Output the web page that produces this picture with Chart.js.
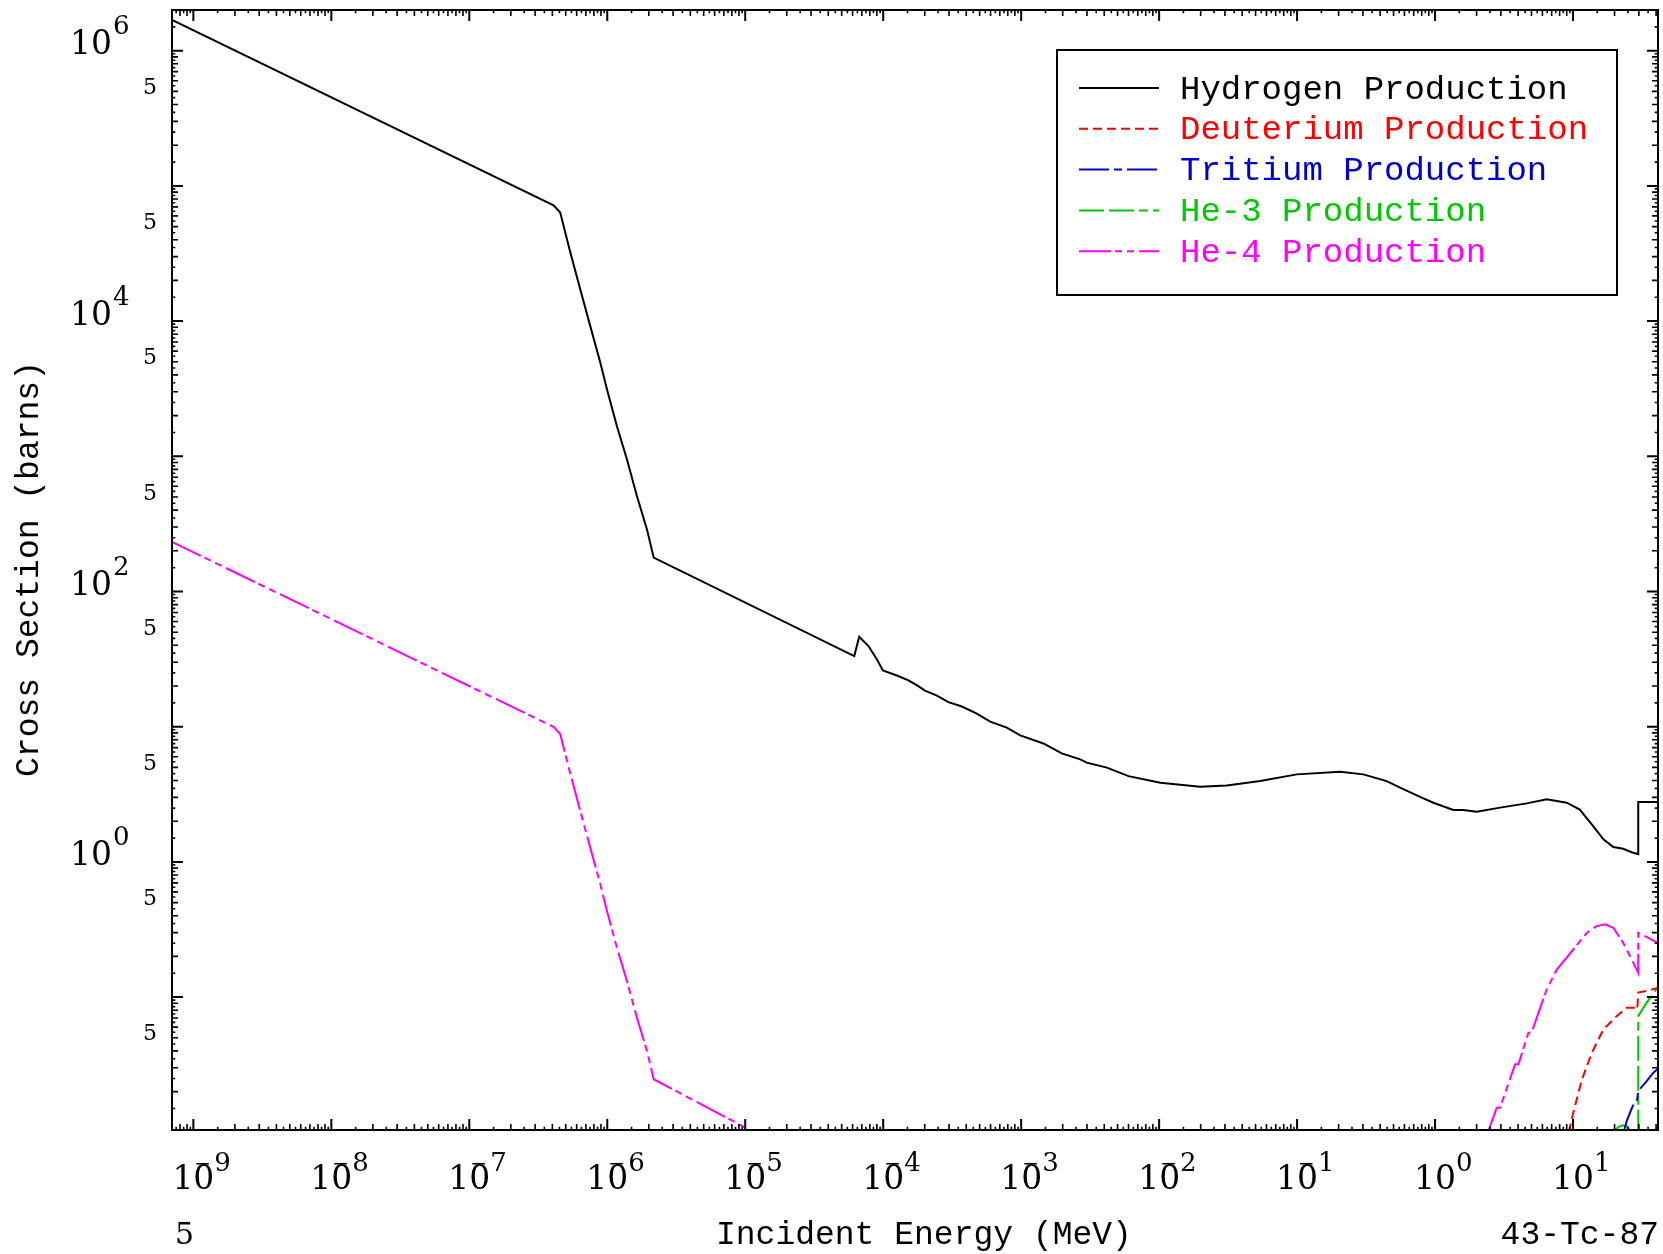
<!DOCTYPE html>
<html><head><meta charset="utf-8">
<script src="https://cdn.jsdelivr.net/npm/chart.js@4.4.1/dist/chart.umd.min.js"></script>
<style>html,body{margin:0;padding:0;background:#fff;}#wrap{width:1663px;height:1254px;position:relative;}</style>
</head><body><div id="wrap"><canvas id="c"></canvas></div>
<script>
// ---- data (energy in MeV, cross section in barns) ----
const hydrogenEnergy = [7.0e-10, 4.08e-7, 4.56e-7, 5.40e-7, 6.37e-7, 7.53e-7, 8.90e-7, 9.95e-7, 1.175e-6, 1.39e-6, 1.64e-6, 1.94e-6, 2.17e-6, 6.17e-5, 6.70e-5, 7.82e-5, 9.0e-5, 9.95e-5, 1.256e-4, 1.525e-4, 1.75e-4, 2.01e-4, 2.45e-4, 2.97e-4, 3.72e-4, 4.77e-4, 5.96e-4, 7.87e-4, 9.84e-4, 1.45e-3, 1.97e-3, 2.68e-3, 2.99e-3, 4.18e-3, 6.0e-3, 1.02e-2, 1.98e-2, 3.09e-2, 5.40e-2, 9.95e-2, 0.205, 0.302, 0.446, 0.558, 0.778, 0.972, 1.357, 1.604, 2.005, 2.96, 4.62, 6.45, 9.0, 11.2, 14.0, 16.6, 19.6, 23.1, 26.6, 29.7, 29.7, 45];
const hydrogenXS = [1.69e6, 7.18e4, 6.36e4, 3.22e4, 1.72e4, 9.18e3, 4.95e3, 3.13e3, 1.67e3, 948, 508, 288, 178, 33.3, 46.3, 39.5, 31.5, 26.1, 23.9, 22.0, 20.3, 18.5, 17.0, 15.2, 14.1, 12.5, 10.9, 9.84, 8.63, 7.52, 6.35, 5.73, 5.42, 4.98, 4.31, 3.85, 3.60, 3.68, 3.96, 4.44, 4.65, 4.44, 3.96, 3.54, 3.03, 2.74, 2.42, 2.42, 2.35, 2.52, 2.71, 2.90, 2.74, 2.44, 1.84, 1.47, 1.29, 1.25, 1.18, 1.14, 2.77, 2.77];

const deuteriumEnergy = [9.3, 10.05, 11.6, 13.7, 16.6, 20.7, 24.5, 28.1, 29.2, 29.7, 34.2, 37.2, 41.3];
const deuteriumXS = [0.0100, 0.0140, 0.0246, 0.0388, 0.0577, 0.0723, 0.0835, 0.0835, 0.081, 0.108, 0.111, 0.114, 0.117];

const tritiumEnergy = [23.2, 24.5, 25.9, 27.4, 29.2, 29.7, 34.2, 38.2, 41.3];
const tritiumXS = [0.0099, 0.0121, 0.0140, 0.0161, 0.0175, 0.0202, 0.0239, 0.0276, 0.0295];

const he3Energy = [19.2, 21.5, 23.1, 24.8, 26.3, 29.7, 29.7, 34.2, 41.3];
const he3XS = [0.0100, 0.0110, 0.01125, 0.0110, 0.0100, 0.005, 0.0723, 0.091, 0.119];

const he4Energy = [7.0e-10, 4.08e-7, 4.56e-7, 5.40e-7, 6.37e-7, 7.53e-7, 8.90e-7, 9.95e-7, 1.175e-6, 1.39e-6, 1.64e-6, 1.94e-6, 2.17e-6, 1.1e-5, 1.5e-5, 2.40, 2.80, 2.96, 3.80, 4.02, 4.75, 5.00, 6.45, 7.62, 10.05, 12.6, 14.8, 17.1, 19.6, 23.1, 27.4, 29.7, 29.7, 41.3];
const he4XS = [233, 9.96, 8.82, 4.47, 2.39, 1.27, 0.687, 0.434, 0.232, 0.131, 0.0705, 0.040, 0.0247, 0.0103, null, 0.0098, 0.0152, 0.0152, 0.0318, 0.0318, 0.0545, 0.0545, 0.114, 0.160, 0.225, 0.299, 0.335, 0.345, 0.326, 0.252, 0.179, 0.151, 0.299, 0.252];

const seriesNames = ['Hydrogen Production', 'Deuterium Production', 'Tritium Production', 'He-3 Production', 'He-4 Production'];
const xLabelExponents = [-9, -8, -7, -6, -5, -4, -3, -2, -1, 0, 1];
const yLabelExponents = [6, 4, 2, 0];
const yFiveLabelValues = [5e5, 5e4, 5e3, 5e2, 5e1, 5e0, 5e-1, 5e-2];
const xRange = [7.05e-10, 41.3];
const yRange = [0.0104, 2.0e6];
const xTitle = 'Incident Energy (MeV)';
const yTitle = 'Cross Section (barns)';
const materialLabel = '43-Tc-87';
const cornerLabel = '5';

function zip(xs, ys) { return xs.map((x, i) => ({ x: x, y: ys[i] })); }

const colors = ['#000000', '#ff0000', '#0000cd', '#00c800', '#ff00ff'];
const dashes = [[], [9, 5], [30, 5, 8, 5], [25, 5, 25, 5, 9, 5], [32, 4, 7, 5, 7, 5]];
const seriesData = [
  zip(hydrogenEnergy, hydrogenXS),
  zip(deuteriumEnergy, deuteriumXS),
  zip(tritiumEnergy, tritiumXS),
  zip(he3Energy, he3XS),
  zip(he4Energy, he4XS)
];

const MONO = '"Liberation Mono", "DejaVu Sans Mono", monospace';
const SERIF = '"DejaVu Serif", "Liberation Serif", serif';

const decorPlugin = {
  id: 'decor',
  beforeDraw(chart) {
    const ctx = chart.ctx;
    ctx.save();
    ctx.fillStyle = '#fff';
    ctx.fillRect(0, 0, chart.width, chart.height);
    ctx.restore();
  },
  afterDatasetsDraw(chart) {
    const ctx = chart.ctx;
    const a = chart.chartArea;
    const xs = chart.scales.x, ys = chart.scales.y;
    ctx.save();
    ctx.strokeStyle = '#000';
    ctx.fillStyle = '#000';
    // frame
    ctx.lineWidth = 2;
    ctx.strokeRect(a.left, a.top, a.right - a.left, a.bottom - a.top);
    // ticks
    const mults = [];
    for (let m = 1; m < 10; m += 0.5) mults.push(m);
    function tickLen(m) { return m === 1 ? 11 : (Number.isInteger(m) ? 6 : 3.3); }
    for (let d = -11; d <= 2; d++) {
      for (const m of mults) {
        const v = m * Math.pow(10, d);
        if (v < xs.min || v > xs.max) continue;
        const p = xs.getPixelForValue(v);
        const L = tickLen(m);
        ctx.lineWidth = m === 1 ? 2 : 1.6;
        ctx.beginPath();
        ctx.moveTo(p, a.bottom); ctx.lineTo(p, a.bottom - L);
        ctx.moveTo(p, a.top); ctx.lineTo(p, a.top + L);
        ctx.stroke();
      }
    }
    for (let d = -3; d <= 7; d++) {
      for (const m of mults) {
        const v = m * Math.pow(10, d);
        if (v < ys.min || v > ys.max) continue;
        const p = ys.getPixelForValue(v);
        const L = tickLen(m);
        ctx.lineWidth = m === 1 ? 2 : 1.6;
        ctx.beginPath();
        ctx.moveTo(a.left, p); ctx.lineTo(a.left + L, p);
        ctx.moveTo(a.right, p); ctx.lineTo(a.right - L, p);
        ctx.stroke();
      }
    }
    // x tick labels
    ctx.textBaseline = 'alphabetic';
    for (const e of xLabelExponents) {
      const p = xs.getPixelForValue(Math.pow(10, e));
      ctx.font = '33px ' + SERIF;
      ctx.textAlign = 'center';
      ctx.fillText('10', p, 1189);
      const half = ctx.measureText('10').width / 2;
      ctx.font = '26px ' + SERIF;
      ctx.textAlign = 'left';
      ctx.fillText(String(Math.abs(e)), p + half, 1171);
      if (e < 0) {
        ctx.font = '20px ' + SERIF;
        ctx.fillText('\u2212', p + 1, 1170);
      }
    }
    // y tick labels
    for (const e of yLabelExponents) {
      const p = ys.getPixelForValue(Math.pow(10, e));
      ctx.font = '33px ' + SERIF;
      ctx.textAlign = 'right';
      ctx.fillText('10', 112, p + 3.5);
      ctx.font = '26px ' + SERIF;
      ctx.textAlign = 'left';
      ctx.fillText(String(e), 113, p - 16.5);
    }
    ctx.font = '22px ' + SERIF;
    ctx.textAlign = 'center';
    for (const v of yFiveLabelValues) {
      const p = ys.getPixelForValue(v);
      ctx.fillText('5', 150, p + 2.5);
    }
    // bottom texts
    ctx.font = '30px ' + SERIF;
    ctx.textAlign = 'left';
    ctx.fillText(cornerLabel, 175, 1244);
    ctx.font = '33px ' + MONO;
    ctx.textAlign = 'left';
    ctx.fillText(xTitle, 716, 1244);
    ctx.textAlign = 'right';
    ctx.fillText(materialLabel, 1659, 1244);
    // y title
    ctx.save();
    ctx.translate(38, 569);
    ctx.rotate(-Math.PI / 2);
    ctx.textAlign = 'center';
    ctx.fillText(yTitle, 0, 0);
    ctx.restore();
    // legend
    ctx.lineWidth = 2;
    ctx.strokeStyle = '#000';
    ctx.fillStyle = '#fff';
    ctx.fillRect(1057, 50, 560, 245);
    ctx.strokeRect(1057, 50, 560, 245);
    ctx.font = '34px ' + MONO;
    ctx.textAlign = 'left';
    chart.data.datasets.forEach((ds, i) => {
      const yc = 88 + i * 40.8;
      ctx.strokeStyle = ds.borderColor;
      ctx.lineWidth = 2;
      ctx.setLineDash(ds.borderDash || []);
      ctx.beginPath();
      ctx.moveTo(1079, yc); ctx.lineTo(1159, yc);
      ctx.stroke();
      ctx.setLineDash([]);
      ctx.fillStyle = ds.borderColor;
      ctx.fillText(ds.label, 1180, yc + 10.5);
    });
    ctx.restore();
  }
};

new Chart(document.getElementById('c'), {
  type: 'line',
  data: {
    datasets: seriesNames.map((name, i) => ({
      label: name,
      data: seriesData[i],
      borderColor: colors[i],
      backgroundColor: colors[i],
      borderWidth: 2,
      borderDash: dashes[i],
      pointRadius: 0,
      tension: 0,
      fill: false,
      spanGaps: false
    }))
  },
  options: {
    responsive: true,
    maintainAspectRatio: false,
    animation: false,
    layout: { padding: { left: 172, right: 5, top: 10, bottom: 124 } },
    plugins: { legend: { display: false }, tooltip: { enabled: false }, title: { display: false } },
    scales: {
      x: { type: 'logarithmic', min: xRange[0], max: xRange[1], display: false },
      y: { type: 'logarithmic', min: yRange[0], max: yRange[1], display: false }
    }
  },
  plugins: [decorPlugin]
});
</script>
</body></html>
